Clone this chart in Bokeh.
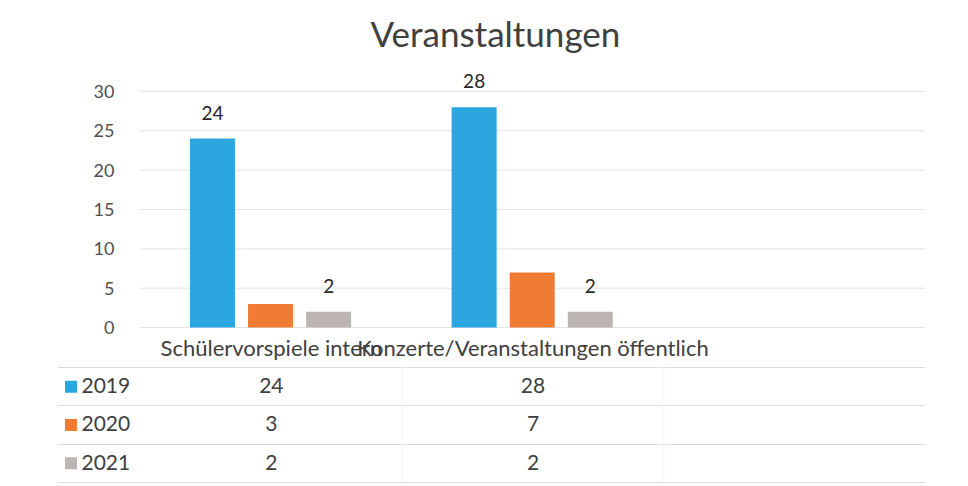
from bokeh.plotting import figure
from bokeh.models import Range1d, FixedTicker, ColumnDataSource
from bokeh.layouts import column
from bokeh.core.properties import value
from bokeh.embed import file_html
from bokeh.resources import INLINE

# ---- data ----
categories = ["Schülervorspiele intern", "Konzerte/Veranstaltungen öffentlich", ""]
series_names = ["2019", "2020", "2021"]
values_2019 = [24, 28]
values_2020 = [3, 7]
values_2021 = [2, 2]
y_ticks = [0, 5, 10, 15, 20, 25, 30]
labelled_series = ["2019", "2021"]

colors = {"2019": "#2ba6df", "2020": "#f07c33", "2021": "#bdb5b1"}
FONT = "Lato"

# ---- layout constants (page px) ----
W = 968
FRAME_L, FRAME_R = 140, 925      # plot area of the chart
TABLE_L = 57                     # left edge of the data table
Y0_PX, Y30_PX = 328, 91          # pixel rows of 0 and 30
TOP_FRAME_PX = 60
BOTTOM_FRAME_PX = 340
TOP_H = 363
TAB_H = 486 - TOP_H

n_cat = len(categories)
unit = (FRAME_R - FRAME_L) / n_cat
def px2x(px):
    return (px - FRAME_L) / unit

x_range = Range1d(px2x(TABLE_L), n_cat)
cat_centers = [i + 0.5 for i in range(n_cat)]

series_vals = {"2019": values_2019, "2020": values_2020, "2021": values_2021}
n_data = len(values_2019)

px_per_unit = (Y0_PX - Y30_PX) / y_ticks[-1]
y_end = y_ticks[-1] + (Y30_PX - TOP_FRAME_PX) / px_per_unit
y_start = -(BOTTOM_FRAME_PX - Y0_PX) / px_per_unit

p = figure(width=W, height=TOP_H, x_range=x_range, y_range=Range1d(y_start, y_end),
           output_backend="svg", toolbar_location=None,
           min_border_left=TABLE_L, min_border_right=W - FRAME_R,
           min_border_top=TOP_FRAME_PX, min_border_bottom=TOP_H - BOTTOM_FRAME_PX)
p.outline_line_color = None
p.title.text = "Veranstaltungen"
p.title.align = "left"
p.title.offset = 313
p.title.text_font = FONT
p.title.text_font_size = "35px"
p.title.text_font_style = "normal"
p.title.text_color = "#404040"
p.title.standoff = 14

# grid lines across the plot area only
p.xgrid.grid_line_color = None
p.ygrid.grid_line_color = None
p.segment(x0=[0] * len(y_ticks), y0=y_ticks, x1=[n_cat] * len(y_ticks), y1=y_ticks,
          line_color="#e3e3e3", line_width=1)

offsets = [-0.222, 0.0, 0.222]
bw = 0.172
for s, off in zip(series_names, offsets):
    xs = [c - 0.003 + off for c in cat_centers[:n_data]]
    p.vbar(x=xs, top=series_vals[s], width=bw, bottom=0,
           fill_color=colors[s], line_color=None)
    if s in labelled_series:
        p.text(x=xs, y=series_vals[s], text=[str(v) for v in series_vals[s]],
               text_align="center", text_baseline="middle", y_offset=-26,
               text_font=value(FONT), text_font_size="19px", text_color="#262626")

p.yaxis.fixed_location = 0
p.yaxis.ticker = FixedTicker(ticks=y_ticks)
p.yaxis.axis_line_color = None
p.yaxis.major_tick_line_color = None
p.yaxis.minor_tick_line_color = None
p.yaxis.major_label_standoff = 20
p.yaxis.major_label_text_font = FONT
p.yaxis.major_label_text_font_size = "18px"
p.yaxis.major_label_text_color = "#505050"

p.xaxis.ticker = FixedTicker(ticks=cat_centers[:n_data])
p.xaxis.major_label_overrides = {c: name for c, name in zip(cat_centers, categories)}
p.xaxis.axis_line_color = None
p.xaxis.major_tick_line_color = None
p.xaxis.minor_tick_line_color = None
p.xaxis.major_label_standoff = -12
p.xaxis.major_label_text_font = FONT
p.xaxis.major_label_text_font_size = "22px"
p.xaxis.major_label_text_color = "#404040"

# ---- data table ----
n_rows = len(series_names)
row_h = 38.33
top_gap = 4.0
t = figure(width=W, height=TAB_H, x_range=x_range,
           y_range=Range1d(-(TAB_H - top_gap - n_rows * row_h) / row_h, n_rows + top_gap / row_h),
           output_backend="svg", toolbar_location=None,
           x_axis_type=None, y_axis_type=None,
           min_border_left=TABLE_L, min_border_right=W - FRAME_R,
           min_border_top=0, min_border_bottom=0)
t.outline_line_color = None

t.hspan(y=list(range(n_rows + 1)), line_color="#dcdcdc", line_width=1)
t.segment(x0=[1, 2], y0=[0, 0], x1=[1, 2], y1=[n_rows, n_rows], line_color="#f3f3f3", line_width=1)

row_y = [n_rows - 0.5 - i for i in range(n_rows)]
t.scatter(x=[px2x(70.5)] * n_rows, y=row_y, marker="square", size=12,
          fill_color=[colors[s] for s in series_names], line_color=None)
t.text(x=[px2x(81)] * n_rows, y=row_y, text=series_names, text_align="left",
       text_baseline="middle", y_offset=-1, text_font=value(FONT), text_font_size="21px",
       text_color="#404040")

tx, ty, tt = [], [], []
for i, s in enumerate(series_names):
    for j, v in enumerate(series_vals[s]):
        tx.append(cat_centers[j])
        ty.append(row_y[i])
        tt.append(str(v))
t.text(x=tx, y=ty, text=tt, text_align="center", text_baseline="middle", y_offset=-1,
       text_font=value(FONT), text_font_size="21px", text_color="#404040")

layout = column(p, t)
open("out.html", "w").write(file_html(layout, INLINE))
